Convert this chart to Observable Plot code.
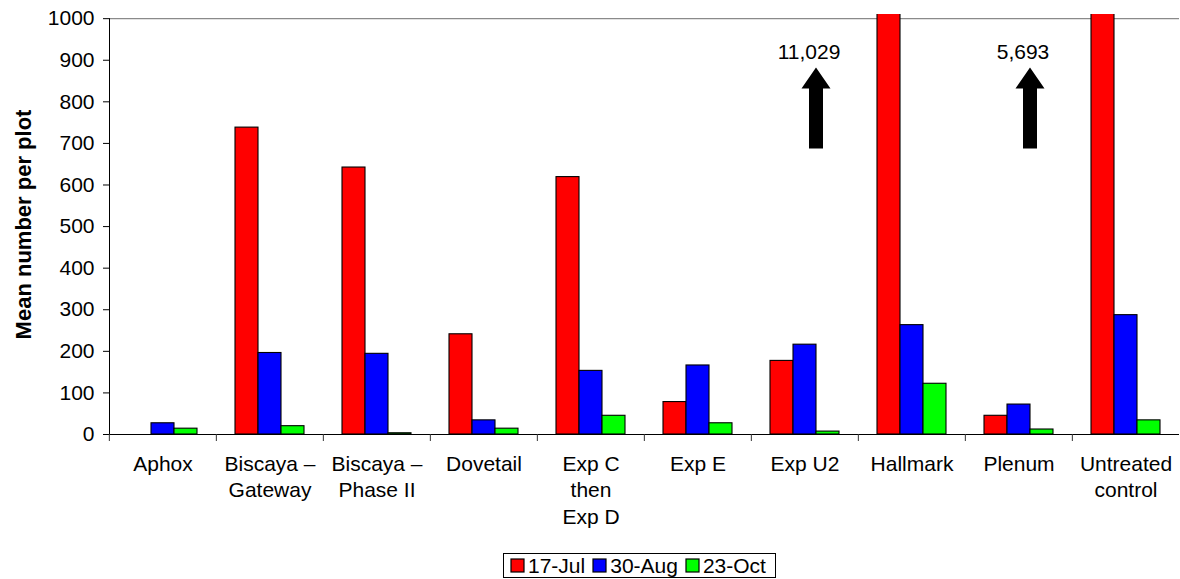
<!DOCTYPE html>
<html>
<head>
<meta charset="utf-8">
<script src="https://cdn.jsdelivr.net/npm/d3@7"></script>
<script src="https://cdn.jsdelivr.net/npm/@observablehq/plot@0.6"></script>
<style>
  body { margin: 0; background: #fff; font-family: "Liberation Sans", Arial, sans-serif; }
  #chart { position: relative; width: 1180px; height: 579px; }
  g[aria-label="y-axis label"] text { font-weight: bold; font-size: 22px; }
  #legend {
    position: absolute; left: 503px; top: 553px; height: 25px;
    box-sizing: border-box; border: 1px solid #000; padding: 0 9px 0 7px;
    display: flex; align-items: center; background: #fff;
  }
  #legend [class$="-swatch"] { margin-right: 8px !important; }
  #legend [class$="-swatch"]:last-child { margin-right: 0 !important; }
  #legend [class$="-swatch"] > svg { margin-right: 4px !important; }
  #legend svg rect { stroke: #000; stroke-width: 1.2px; }
</style>
</head>
<body>
<div id="chart"></div>
<script>
// Treatments (tick labels, with line breaks) and sampling dates
const categories = ["Aphox", "Biscaya –\nGateway", "Biscaya –\nPhase II", "Dovetail", "Exp C\nthen\nExp D",
  "Exp E", "Exp U2", "Hallmark", "Plenum", "Untreated\ncontrol"];
const series = ["17-Jul", "30-Aug", "23-Oct"];
const colors = ["#ff0000", "#0000ff", "#00ff00"];

// Mean number per plot on each date
const jul = [0, 738, 642, 241, 619, 78, 177, 11029, 45, 5693];
const aug = [27, 196, 194, 34, 153, 166, 216, 263, 72, 287];
const oct = [14, 20, 3, 14, 45, 27, 7, 122, 12, 34];

const yTicks = [0, 100, 200, 300, 400, 500, 600, 700, 800, 900, 1000];
const yTitle = "Mean number per plot";

// Off-scale values: the arrow sits in a neighbouring gap and carries the real value
const noteAt = ["Exp U2", "Plenum"];
const noteFor = ["Hallmark", "Untreated\ncontrol"];

const values = [jul, aug, oct];
const rows = categories.flatMap((category, i) =>
  series.map((s, j) => ({category, series: s, value: values[j][i]})));
const notes = noteAt.map((at, k) => ({at, value: jul[categories.indexOf(noteFor[k])]}));

const W = 1180, H = 545, ML = 107;
const facetWidth = (W - ML) / categories.length;

// Filled block arrow pointing up, drawn from its base
const blockArrow = {
  draw(context, l) {
    const shaft = 7, head = 14.5, headLen = 21;
    context.moveTo(-shaft, 0);
    context.lineTo(-shaft, -(l - headLen));
    context.lineTo(-head, -(l - headLen));
    context.lineTo(0, -l);
    context.lineTo(head, -(l - headLen));
    context.lineTo(shaft, -(l - headLen));
    context.lineTo(shaft, 0);
    context.closePath();
  }
};

const chart = Plot.plot({
  width: W,
  height: H,
  marginLeft: ML,
  marginRight: 0,
  marginTop: 14,
  marginBottom: 111,
  style: {fontFamily: "'Liberation Sans', Arial, sans-serif", fontSize: "21px", color: "#000", background: "#fff"},
  fx: {domain: categories, padding: 0},
  x: {domain: series, paddingInner: 0, paddingOuter: 0.735, axis: null},
  y: {domain: [0, 1010]},
  color: {domain: series, range: colors},
  marks: [
    Plot.ruleY([1000], {stroke: "#8a8a8a", strokeWidth: 1.2}),
    Plot.frame({anchor: "left", facetAnchor: "left", insetTop: 4.2, stroke: "#000"}),
    Plot.barY(rows, {fx: "category", x: "series", y: "value", fill: "series", stroke: "#000", strokeWidth: 1.1, clip: true}),
    Plot.ruleY([0], {stroke: "#000", strokeWidth: 1.2}),
    Plot.axisY({ticks: yTicks, tickFormat: d => String(d), tickSize: 6, tickPadding: 9,
      label: yTitle, labelAnchor: "center", labelOffset: 94, labelArrow: "none"}),
    Plot.axisFx({anchor: "bottom", tickSize: 7, text: null, dx: -facetWidth / 2, label: null, stroke: "#333"}),
    Plot.axisFx({anchor: "bottom", tickSize: 0, tickPadding: 18, lineHeight: 1.25, label: null}),
    Plot.vector(notes, {fx: "at", y: 688, length: 81, anchor: "start", shape: blockArrow,
      fill: "#000", stroke: "none", dx: 11}),
    Plot.text(notes, {fx: "at", y: 903, text: d => d3.format(",")(d.value), lineAnchor: "bottom", dx: 4, fill: "#000"})
  ]
});

const host = document.getElementById("chart");
host.append(chart);

const legend = chart.legend("color", {
  swatchSize: 13,
  style: {fontSize: "21px", fontFamily: "'Liberation Sans', Arial, sans-serif", minHeight: "0", margin: "0", color: "#000"}
});
const box = document.createElement("div");
box.id = "legend";
box.append(legend);
host.append(box);
</script>
</body>
</html>
